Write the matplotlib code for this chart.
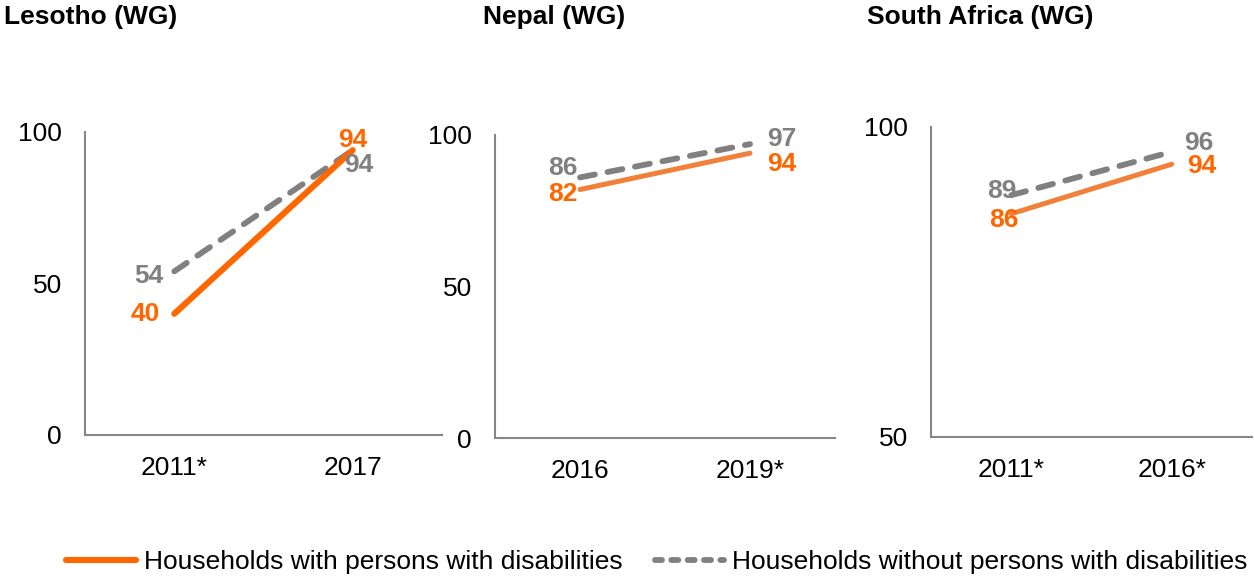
import matplotlib
matplotlib.use("Agg")
import matplotlib.pyplot as plt
from matplotlib.lines import Line2D

plt.rcParams['font.family'] = ['Liberation Sans', 'DejaVu Sans']

# ---- data ----
titles = ["Lesotho (WG)", "Nepal (WG)", "South Africa (WG)"]
cats_lesotho = ["2011*", "2017"]
cats_nepal = ["2016", "2019*"]
cats_sa = ["2011*", "2016*"]
with_dis_lesotho = [40, 94]
without_dis_lesotho = [54, 94]
with_dis_nepal = [82, 94]
without_dis_nepal = [86, 97]
with_dis_sa = [86, 94]
without_dis_sa = [89, 96]
yticks_lesotho = [0, 50, 100]
yticks_nepal = [0, 50, 100]
yticks_sa = [50, 100]
legend_labels = ["Households with persons with disabilities",
                 "Households without persons with disabilities"]

# ---- style ----
ORANGE = "#FF6600"
ORANGE_LIGHT = "#F0803A"
GRAY = "#808080"
SPINE = "#868686"
FS = 19

W, H = 1254, 578
fig = plt.figure(figsize=(W / 100, H / 100), dpi=100)

def px_axes(left, right, top, bottom):
    return fig.add_axes([left / W, (H - bottom) / H, (right - left) / W, (bottom - top) / H])

panels = [
    dict(box=(85, 442, 132, 435), cats=cats_lesotho, w=with_dis_lesotho, wo=without_dis_lesotho,
         yt=yticks_lesotho, ylim=(0, 100), lc=ORANGE, lw_o=4.4,
         off_w=[((-10.5, -0.5), 'right'), ((0, 7), 'center')],
         off_wo=[((-8, -3), 'right'), ((4, -11), 'center')],
         title_x=4),
    dict(box=(495, 835, 135, 438), cats=cats_nepal, w=with_dis_nepal, wo=without_dis_nepal,
         yt=yticks_nepal, ylim=(0, 100), lc=ORANGE_LIGHT, lw_o=3.6,
         off_w=[((-1.5, -3.5), 'right'), ((12, -8), 'left')],
         off_wo=[((-1.5, 6.5), 'right'), ((12, 3.5), 'left')],
         title_x=483),
    dict(box=(931, 1252, 127, 437), cats=cats_sa, w=with_dis_sa, wo=without_dis_sa,
         yt=yticks_sa, ylim=(50, 100), lc=ORANGE_LIGHT, lw_o=3.6,
         off_w=[((5, -4.5), 'right'), ((11, -1.5), 'left')],
         off_wo=[((3.5, 3), 'right'), ((9, 6.5), 'left')],
         title_x=867),
]

for t, p in zip(titles, panels):
    l, r, tp, b = p['box']
    ax = px_axes(l, r, tp, b)
    x = list(range(len(p['cats'])))
    ax.plot(x, p['wo'], color=GRAY, lw=4.2, dashes=(2.6, 2.2),
            dash_capstyle='round', solid_capstyle='round', zorder=2)
    ax.plot(x, p['w'], color=p['lc'], lw=p['lw_o'], solid_capstyle='round', zorder=3)
    for i, v in enumerate(p['w']):
        (dx, dy), ha = p['off_w'][i]
        ax.annotate(str(v), (i, v), xytext=(dx, dy), textcoords='offset points',
                    ha=ha, va='center', color=ORANGE, fontsize=FS, fontweight='bold',
                    zorder=5)
    for i, v in enumerate(p['wo']):
        (dx, dy), ha = p['off_wo'][i]
        ax.annotate(str(v), (i, v), xytext=(dx, dy), textcoords='offset points',
                    ha=ha, va='center', color=GRAY, fontsize=FS, fontweight='bold',
                    zorder=4)
    ax.set_xlim(-0.5, len(x) - 0.5)
    ax.set_ylim(*p['ylim'])
    ax.set_xticks(x)
    ax.set_xticklabels(p['cats'])
    ax.set_yticks(p['yt'])
    ax.tick_params(axis='both', length=0, labelsize=FS, colors='black')
    ax.tick_params(axis='y', pad=16.5)
    ax.tick_params(axis='x', pad=15)
    for s in ['top', 'right']:
        ax.spines[s].set_visible(False)
    for s in ['left', 'bottom']:
        ax.spines[s].set_color(SPINE)
        ax.spines[s].set_linewidth(1.5)
    ax.patch.set_alpha(0)
    for sp in ax.spines.values():
        sp.set_clip_on(False)
    fig.text(p['title_x'] / W, 1 - 5 / H, t, ha='left', va='top',
             fontsize=FS, fontweight='bold', color='black')

handles = [
    Line2D([], [], color=ORANGE, lw=4.4, solid_capstyle='round'),
    Line2D([], [], color=GRAY, lw=4.2, dashes=(1.2, 1.6), dash_capstyle='round'),
]
fig.legend(handles, legend_labels, loc='lower center', bbox_to_anchor=(0.524, -0.012),
           ncol=2, frameon=False, fontsize=FS, handlelength=2.65, handletextpad=0.3,
           columnspacing=1.2, borderaxespad=0.0)

fig.savefig("out.png", dpi=100)
